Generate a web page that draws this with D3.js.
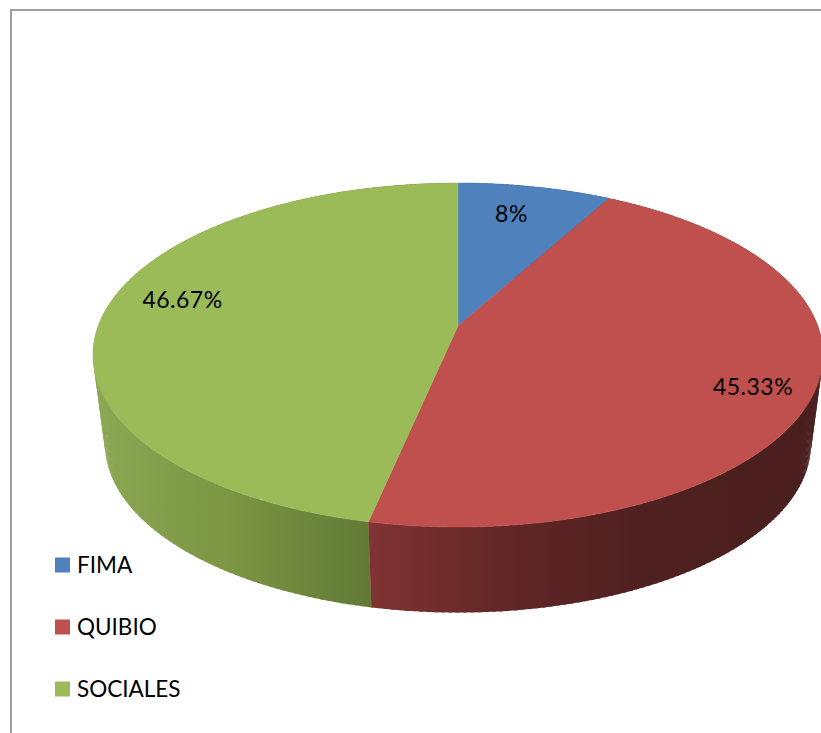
<!DOCTYPE html>
<html>
<head>
<meta charset="utf-8">
<script src="https://d3js.org/d3.v7.min.js"></script>
<style>
  html, body { margin: 0; padding: 0; background: #fff; overflow: hidden; }
  text { font-family: Lato, "Open Sans", sans-serif; fill: #000; }
</style>
</head>
<body>
<svg id="chart"></svg>
<script>
const categories = ['FIMA', 'QUIBIO', 'SOCIALES'];
const shares = [8, 45.33, 46.67];
const shareLabels = ['8%', '45.33%', '46.67%'];

const width = 821;
const height = 733;

const svg = d3.select('#chart').attr('width', width).attr('height', height)
  .style('display', 'block');

const topColor = d3.scaleOrdinal().domain(categories).range(['#4f81bd', '#c0504d', '#9bbb59']);

// side wall shades, left to right
const wallStops = {
  FIMA: [[369, '#3a5f8c'], [607, '#2a4666']],
  QUIBIO: [[369, '#803333'], [500, '#632727'], [640, '#4f2020'], [821, '#4a1f1f']],
  SOCIALES: [[93, '#8ca853'], [230, '#7b9542'], [369, '#627a37']],
};

const defs = svg.append('defs');
categories.forEach((name) => {
  const grad = defs.append('linearGradient')
    .attr('id', `wall-${name}`)
    .attr('gradientUnits', 'userSpaceOnUse')
    .attr('x1', 0).attr('x2', width)
    .attr('y1', 0).attr('y2', 0);
  wallStops[name].forEach(([x, color]) => {
    grad.append('stop').attr('offset', x / width).attr('stop-color', color);
  });
});

// perspective projection of the unit disc, the apex sits above the ellipse centre
const cx = 458;
const apexY = 326;
const k = 0.1686;
const a = 359.8;
const b = 167.1;
const project = (angle) => {
  const u = Math.sin(angle);
  const v = Math.cos(angle);
  const w = 1 + k * v;
  return [cx + a * u / w, apexY - b * v / w];
};

// lower rim, a little smaller and pushed down
const ellipseY = 355;
const lower = ([x, y]) => [cx + (x - cx) * 0.967, 444 + (y - ellipseY) * 0.98];

const pie = d3.pie().sort(null).value(d => d.share);
const slices = pie(categories.map((name, i) => ({ name, share: shares[i], label: shareLabels[i] })));

const line = d3.line();
const step = Math.PI / 180;

// side walls, back to front so the strips overlap cleanly
const strips = [];
slices.forEach((s) => {
  d3.range(s.startAngle, s.endAngle, step).forEach((t0) => {
    strips.push({ s, t0, t1: Math.min(t0 + step * 1.5, s.endAngle) });
  });
});
strips.sort((p, q) => Math.cos(q.t0) - Math.cos(p.t0));

svg.append('g').selectAll('path')
  .data(strips)
  .enter().append('path')
    .attr('d', (d) => {
      const p0 = project(d.t0);
      const p1 = project(d.t1);
      return line([p0, p1, lower(p1), lower(p0)]) + 'Z';
    })
    .attr('fill', d => `url(#wall-${d.s.data.name})`);

// top face
svg.append('g').selectAll('path')
  .data(slices)
  .enter().append('path')
    .attr('d', (d) => {
      const pts = d3.range(d.startAngle, d.endAngle, step / 2).map(project);
      pts.push(project(d.endAngle));
      return line([[cx, apexY], ...pts]) + 'Z';
    })
    .attr('fill', d => topColor(d.data.name))
    .attr('stroke', d => topColor(d.data.name))
    .attr('stroke-width', 0.5);

// data labels
const labelPos = [[511.5, 222], [753, 395], [182.5, 308]];
svg.append('g').selectAll('text')
  .data(slices)
  .enter().append('text')
    .attr('x', (d, i) => labelPos[i][0])
    .attr('y', (d, i) => labelPos[i][1])
    .attr('text-anchor', 'middle')
    .style('font-size', '23px')
    .style('letter-spacing', '0.5px')
    .text(d => d.data.label);

// legend
const legendY = d3.scalePoint().domain(categories).range([565, 689]);
const legend = svg.append('g').selectAll('g')
  .data(categories)
  .enter().append('g')
    .attr('transform', d => `translate(55, ${legendY(d)})`);
legend.append('rect')
  .attr('y', -7.5)
  .attr('width', 15)
  .attr('height', 15)
  .attr('fill', d => topColor(d));
legend.append('text')
  .attr('x', 22)
  .attr('y', 8)
  .style('font-size', '22.5px')
  .text(d => d);

// chart frame, runs off the right and bottom edges
svg.append('path')
  .attr('d', `M11,733V10H${width}`)
  .attr('fill', 'none')
  .attr('stroke', '#a0a0a0')
  .attr('stroke-width', 2);
</script>
</body>
</html>
